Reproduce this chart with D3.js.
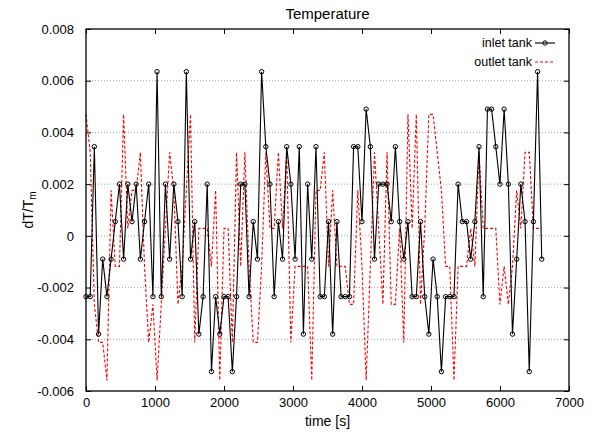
<!DOCTYPE html>
<html>
<head>
<meta charset="utf-8">
<script src="https://cdn.jsdelivr.net/npm/d3@7"></script>
<style>
  body { margin: 0; background: #fff; }
  text { font-family: "Liberation Sans", Arial, sans-serif; fill: #000; }
</style>
</head>
<body>
<div id="chart"></div>
<script>
// sample times [s] (about one per minute)
var times = [0, 61, 121, 182, 242, 303, 364, 424, 485, 545, 606, 667, 727, 788, 848, 909, 970, 1030, 1091, 1151,
  1212, 1273, 1333, 1394, 1454, 1515, 1576, 1636, 1697, 1757, 1818, 1879, 1939, 2000, 2060, 2121, 2182, 2242, 2303, 2363,
  2424, 2485, 2545, 2606, 2666, 2727, 2788, 2848, 2909, 2969, 3030, 3091, 3151, 3212, 3272, 3333, 3394, 3454, 3515, 3575,
  3636, 3697, 3757, 3818, 3878, 3939, 4000, 4060, 4121, 4181, 4242, 4303, 4363, 4424, 4484, 4545, 4606, 4666, 4727, 4787,
  4848, 4909, 4969, 5030, 5090, 5151, 5212, 5272, 5333, 5393, 5454, 5515, 5575, 5636, 5696, 5757, 5818, 5878, 5939, 5999,
  6060, 6121, 6181, 6242, 6302, 6363, 6424, 6484, 6545, 6605];

var inlet = [-0.00235, -0.00235, 0.00345, -0.0038, -0.0009, -0.00235, -0.0009, 0.00055, 0.002, -0.0009,
  0.002, 0.00055, 0.002, -0.0009, 0.00055, 0.002, -0.00235, 0.00635, -0.00235, 0.002,
  -0.0009, 0.002, 0.00055, -0.00235, 0.00635, -0.0009, 0.00055, -0.0038, -0.00235, 0.002,
  -0.00525, -0.00235, -0.0038, -0.00235, -0.00235, -0.00525, -0.00235, 0.002, 0.002, -0.00235,
  0.00055, -0.0009, 0.00635, 0.00345, 0.002, -0.00235, 0.00055, -0.0009, 0.00345, 0.002,
  -0.0009, 0.00345, -0.0038, 0.002, -0.0009, 0.00345, -0.00235, -0.00235, 0.00055, -0.0038,
  0.00055, -0.00235, -0.00235, -0.00235, 0.00345, 0.00345, 0.00055, 0.0049, 0.00345, -0.0009,
  0.002, 0.002, 0.002, 0.00055, 0.00345, 0.00055, -0.0009, 0.00055, -0.00235, -0.00235,
  0.00055, -0.00235, -0.0038, -0.0009, -0.00235, -0.00525, -0.00235, -0.00235, -0.00235, 0.002,
  0.00055, 0.00055, -0.0009, 0.00055, 0.00345, -0.00235, 0.0049, 0.0049, 0.00345, 0.002,
  0.0049, 0.002, -0.0038, -0.0009, 0.002, 0.00055, -0.00525, 0.00055, 0.00635, -0.0009];

var outlet = [0.0047, 0.00323, -0.00265, -0.00412, -0.00412, -0.00559, 0.00176, -0.00118, -0.00118, 0.0047,
  0.00029, 0.00176, 0.00176, 0.00323, -0.00118, -0.00412, -0.00265, -0.00559, -0.00265, 0.00029,
  0.00323, 0.00176, -0.00265, -0.00118, 0.00176, 0.0047, -0.00412, 0.00029, 0.00029, 0.00029,
  -0.00118, 0.00176, -0.00559, 0.00029, 0.00029, -0.00412, 0.00323, -0.00118, 0.00323, -0.00118,
  -0.00412, -0.00412, -0.00118, 0.00323, 0.00029, 0.00029, 0.00323, 0.00029, 0.00323, -0.00412,
  -0.00118, -0.00118, -0.00118, -0.00118, -0.00559, 0.00176, 0.00176, 0.00323, -0.00118, 0.00176,
  -0.00118, -0.00118, -0.00118, -0.00265, -0.00265, 0.00176, -0.00118, -0.00559, -0.00118, 0.00323,
  0.00029, -0.00265, 0.00323, -0.00265, -0.00265, 0.00029, -0.00412, 0.0047, 0.00029, 0.0047,
  -0.00265, 0.00029, 0.0047, 0.0047, 0.00323, 0.00176, -0.00118, -0.00118, -0.00559, -0.00118,
  -0.00118, -0.00118, 0.00029, -0.00118, 0.00323, 0.00029, 0.00029, 0.00029, 0.00029, -0.00265,
  -0.00118, -0.00265, -0.00118, 0.00176, 0.00029, 0.00323, 0.00323, 0.00029, 0.00029, 0.00029];

var xTicks = [0, 1000, 2000, 3000, 4000, 5000, 6000, 7000];
var yTicks = [-0.006, -0.004, -0.002, 0, 0.002, 0.004, 0.006, 0.008];
var seriesNames = ['inlet tank', 'outlet tank'];

var W = 597, H = 434;
var m = { left: 86, right: 28, top: 29, bottom: 43 };

var svg = d3.select('#chart').append('svg')
  .attr('width', W)
  .attr('height', H);

var x = d3.scaleLinear().domain([0, 7000]).range([m.left, W - m.right]);
var y = d3.scaleLinear().domain([-0.006, 0.008]).range([H - m.bottom, m.top]);

var fmt = function(d) { return d === 0 ? '0' : d.toFixed(3); };

// grid, horizontal only
svg.append('g')
  .selectAll('line')
  .data(yTicks.slice(1, -1))
  .enter().append('line')
  .attr('x1', m.left).attr('x2', W - m.right)
  .attr('y1', function(d) { return y(d); })
  .attr('y2', function(d) { return y(d); })
  .attr('stroke', '#a8a8a8')
  .attr('stroke-width', 1)
  .attr('stroke-dasharray', '1,2');

// axes with inward ticks on all sides
var tl = 5;
var axB = svg.append('g').attr('transform', 'translate(0,' + (H - m.bottom) + ')')
  .call(d3.axisBottom(x).tickValues(xTicks).tickSize(-tl).tickPadding(7).tickFormat(d3.format('d')));
var axT = svg.append('g').attr('transform', 'translate(0,' + m.top + ')')
  .call(d3.axisTop(x).tickValues(xTicks).tickSize(-tl).tickFormat(''));
var axL = svg.append('g').attr('transform', 'translate(' + m.left + ',0)')
  .call(d3.axisLeft(y).tickValues(yTicks).tickSize(-tl).tickPadding(12).tickFormat(fmt));
var axR = svg.append('g').attr('transform', 'translate(' + (W - m.right) + ',0)')
  .call(d3.axisRight(y).tickValues(yTicks).tickSize(-tl).tickFormat(''));

[axB, axT, axL, axR].forEach(function(g) {
  g.select('.domain').remove();
  g.selectAll('.tick line').attr('stroke', '#000');
  g.selectAll('.tick text').style('font-size', '13px').style('font-family', '"Liberation Sans", Arial, sans-serif');
});

// outlet tank, red dashed
var line = d3.line()
  .x(function(d) { return x(d[0]); })
  .y(function(d) { return y(d[1]); });

svg.append('path')
  .datum(d3.zip(times, outlet))
  .attr('fill', 'none')
  .attr('stroke', '#ff0000')
  .attr('stroke-width', 1.1)
  .attr('stroke-dasharray', '3,2')
  .attr('d', line);

// inlet tank, black with open circles
var inletData = d3.zip(times, inlet);
svg.append('path')
  .datum(inletData)
  .attr('fill', 'none')
  .attr('stroke', '#000')
  .attr('stroke-width', 1.1)
  .attr('d', line);

svg.append('g')
  .selectAll('circle')
  .data(inletData)
  .enter().append('circle')
  .attr('cx', function(d) { return x(d[0]); })
  .attr('cy', function(d) { return y(d[1]); })
  .attr('r', 2.2)
  .attr('fill', 'none')
  .attr('stroke', '#000')
  .attr('stroke-width', 1);

// border
svg.append('rect')
  .attr('x', m.left).attr('y', m.top)
  .attr('width', W - m.left - m.right)
  .attr('height', H - m.top - m.bottom)
  .attr('fill', 'none')
  .attr('stroke', '#000')
  .attr('stroke-width', 1.3);

// legend
var lg = svg.append('g').attr('transform', 'translate(532,43)');
lg.append('text').attr('x', 0).attr('y', 0).attr('dy', '0.35em')
  .attr('text-anchor', 'end').style('font-size', '12.5px').text(seriesNames[0]);
lg.append('line').attr('x1', 3).attr('x2', 23).attr('y1', 0).attr('y2', 0)
  .attr('stroke', '#000').attr('stroke-width', 1.1);
lg.append('circle').attr('cx', 13).attr('cy', 0).attr('r', 2.2)
  .attr('fill', 'none').attr('stroke', '#000');
lg.append('text').attr('x', 0).attr('y', 19).attr('dy', '0.35em')
  .attr('text-anchor', 'end').style('font-size', '12.5px').text(seriesNames[1]);
lg.append('line').attr('x1', 3).attr('x2', 23).attr('y1', 19).attr('y2', 19)
  .attr('stroke', '#ff0000').attr('stroke-width', 1.1).attr('stroke-dasharray', '3,2');

// titles
svg.append('text')
  .attr('x', (m.left + W - m.right) / 2).attr('y', 19)
  .attr('text-anchor', 'middle').style('font-size', '15px')
  .text('Temperature');

svg.append('text')
  .attr('x', (m.left + W - m.right) / 2).attr('y', 426)
  .attr('text-anchor', 'middle').style('font-size', '14px')
  .text('time [s]');

var yl = svg.append('text')
  .attr('transform', 'translate(33,' + (m.top + H - m.bottom) / 2 + ') rotate(-90)')
  .attr('text-anchor', 'middle').style('font-size', '14px');
yl.append('tspan').text('dT/T');
yl.append('tspan').attr('baseline-shift', '-25%').style('font-size', '10px').text('m');
</script>
</body>
</html>
